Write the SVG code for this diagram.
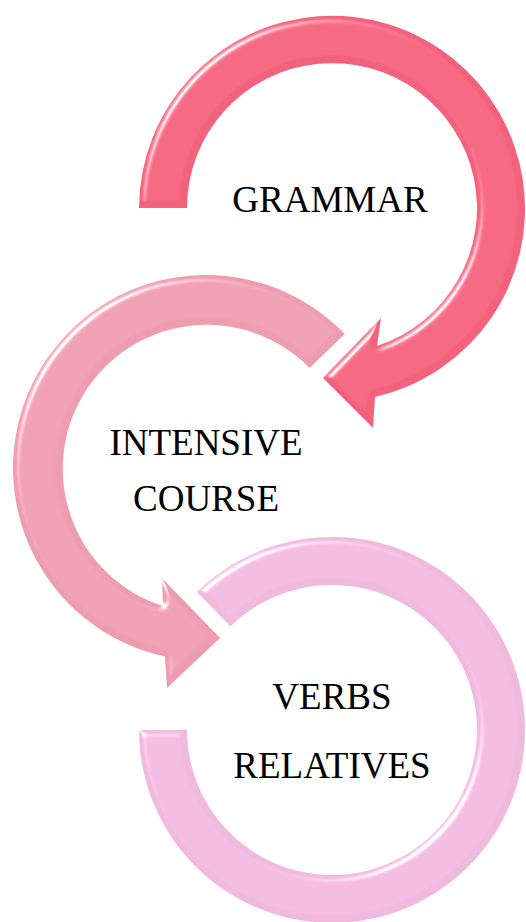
<svg xmlns="http://www.w3.org/2000/svg" width="526" height="922" viewBox="0 0 526 922">
<style>
.lbl{font-family:"Liberation Serif","Times New Roman",serif;font-size:37px;fill:#000;text-anchor:middle}
</style>
<defs>
<filter id="bevel" x="-5%" y="-5%" width="110%" height="110%">
<feGaussianBlur in="SourceAlpha" stdDeviation="3" result="b"/>
<feSpecularLighting in="b" surfaceScale="5" specularConstant="1" specularExponent="30" lighting-color="#ffffff" result="s">
<feDistantLight azimuth="225" elevation="35"/>
</feSpecularLighting>
<feComposite in="s" in2="SourceAlpha" operator="in" result="s2"/>
<feComposite in="SourceGraphic" in2="s2" operator="arithmetic" k1="0" k2="1" k3="0.9" k4="0"/>
</filter>
</defs>
<rect width="526" height="922" fill="#ffffff"/>
<g id="connectors"></g>
<g id="node-grammar">
<path filter="url(#bevel)" fill="#F3627D" d="M139,208 A193,193 0 1 1 375,397 L373,428 L323,378 L381,318 L377,346 A145,145 0 1 0 187,208 Z"/>
<text class="lbl" x="330" y="212">GRAMMAR</text>
</g>
<g id="node-intensive">
<path filter="url(#bevel)" fill="#EE9DB1" d="M344.8,333.9 A193,193 0 1 0 165,656.6 L167,688 L220,638 L162,578 L163,606 A144,144 0 1 1 309.6,368 Z"/>
<text class="lbl" x="206" y="455">INTENSIVE</text>
<text class="lbl" x="206" y="511">COURSE</text>
</g>
<g id="node-verbs">
<path filter="url(#bevel)" fill="#F0BADF" d="M196.9,592.1 A193,193 0 1 1 139,730 L187,730 A145,145 0 1 0 230.5,626.4 Z"/>
<text class="lbl" x="332" y="709">VERBS</text>
<text class="lbl" x="332" y="778">RELATIVES</text>
</g>
</svg>
